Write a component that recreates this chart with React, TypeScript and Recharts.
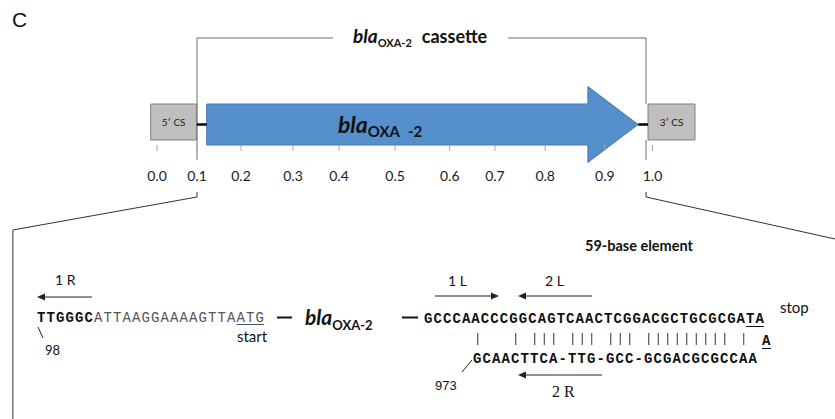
import React from 'react';
import { ComposedChart, XAxis, YAxis, ReferenceArea, ReferenceLine, Customized, Scatter } from 'recharts';

// ---- axis (cassette position) ----
const axisTickLabels = ['0.0', '0.1', '0.2', '0.3', '0.4', '0.5', '0.6', '0.7', '0.8', '0.9', '1.0'];
const axisTickPositions = [0.002, 0.0825, 0.171, 0.2757, 0.3682, 0.481, 0.591, 0.682, 0.783, 0.903, 0.999];

// ---- cassette features ----
const boxNames = ['5\u2032 CS', '3\u2032 CS'];
const boxStarts = [-0.0107, 0.99];
const boxEnds = [0.0819, 1.0845];
const geneStart = 0.102;
const geneHeadStart = 0.869;
const geneEnd = 0.97;
const geneLabelAt = 0.366;

// ---- sequences ----
const seqLeftBold = 'TTGGGC';
const seqLeftMid = 'ATTAAGGAAAAGTTA';
const seqLeftStart = 'ATG';
const seqTop = 'GCCCAACCCGGCAGTCAACTCGGACGCTGCGCGA';
const seqTopStop = 'TA';
const seqBottom = 'GCAACTTCA-TTG-GCC-GCGACGCGCCAA';
const pairIdx = [0, 4, 6, 7, 8, 10, 11, 12, 14, 15, 16, 18, 19, 20, 21, 22, 23, 24, 25, 26, 28];

const SANS = "Lato, 'Open Sans', sans-serif";
const MONO = "'Liberation Mono', 'DejaVu Sans Mono', monospace";
const SERIF = "'Liberation Serif', 'DejaVu Serif', serif";

const X_DOMAIN: [number, number] = [-0.3139, 1.3662];
const Y_DOMAIN: [number, number] = [-1, 1];
const BODY_HALF = 1;
const HEAD_HALF = 1.85;

const anchorData = [
  { x: boxStarts[0], y: 0 },
  { x: geneStart, y: 0 },
  { x: geneEnd, y: 0 },
  { x: boxEnds[1], y: 0 },
];

const GeneArrow = (props: any) => {
  const { x, y, width, height } = props;
  const cy = y + height / 2;
  const bh = (height / 2) * (BODY_HALF / HEAD_HALF);
  const frac = (v: number) => x + (width * (v - geneStart)) / (geneEnd - geneStart);
  const hx = frac(geneHeadStart);
  const pts = [
    [x, cy - bh], [hx, cy - bh], [hx, y], [x + width, cy], [hx, y + height], [hx, cy + bh], [x, cy + bh],
  ].map((p) => p.join(',')).join(' ');
  return (
    <g>
      <polygon points={pts} fill="#5590cd" stroke="#4677b0" strokeWidth={1} />
      <text x={frac(geneLabelAt)} y={cy + 8.5} fontFamily={SANS} fontWeight="bold" fill="#111">
        <tspan fontSize={23} fontStyle="italic">bla</tspan>
        <tspan fontSize={15} dy={4}>OXA</tspan>
        <tspan fontSize={15} dx={8}>-2</tspan>
      </text>
    </g>
  );
};

const HArrow = ({ x1, x2, y }: { x1: number; x2: number; y: number }) => {
  const dir = x2 > x1 ? 1 : -1;
  const tipBase = x2 - dir * 8;
  return (
    <g>
      <line x1={x1} y1={y} x2={tipBase} y2={y} stroke="#222" strokeWidth={1} />
      <polygon points={`${x2},${y} ${tipBase},${y - 3.5} ${tipBase},${y + 3.5}`} fill="#222" />
    </g>
  );
};

const Annotations = () => {
  const leftX = 37, leftPitch = 9.5;
  const topX = 424, topPitch = 9.472;
  const botX = 473, botPitch = 9.5;
  const fs = 14;
  return (
    <g>
      <text x={12} y={27} fontFamily="'Liberation Sans', Arial, sans-serif" fontSize={21} fill="#111">C</text>
      <text x={353} y={43} fontFamily={SANS} fontWeight="bold" fill="#111">
        <tspan fontSize={19} fontStyle="italic">bla</tspan>
        <tspan fontSize={11} dy={4}>OXA-2</tspan>
        <tspan fontSize={18} dy={-4} dx={10}>cassette</tspan>
      </text>

      <text x={585} y={251} fontFamily={SANS} fontWeight="bold" fontSize={14.5} fill="#111">59-base element</text>

      <text x={55} y={285} fontFamily={SANS} fontSize={14} fill="#111">1 R</text>
      <HArrow x1={92} x2={37} y={297} />
      <text x={448} y={286} fontFamily={SANS} fontSize={14} fill="#111">1 L</text>
      <HArrow x1={435} x2={499} y={296} />
      <text x={545} y={286} fontFamily={SANS} fontSize={14} fill="#111">2 L</text>
      <HArrow x1={592} x2={518} y={296} />
      <HArrow x1={602} x2={518} y={375} />
      <text x={552} y={397} fontFamily={SERIF} fontSize={16} fill="#111">2 R</text>

      <text x={leftX} y={322} fontFamily={MONO} fontSize={fs} letterSpacing={leftPitch - 0.6 * fs}>
        <tspan fontWeight="bold" fill="#111">{seqLeftBold}</tspan>
        <tspan fill="#555">{seqLeftMid}</tspan>
        <tspan fill="#555">{seqLeftStart}</tspan>
      </text>
      <line
        x1={leftX + (seqLeftBold.length + seqLeftMid.length) * leftPitch}
        x2={leftX + (seqLeftBold.length + seqLeftMid.length + seqLeftStart.length) * leftPitch - 1}
        y1={324.5} y2={324.5} stroke="#555" strokeWidth={1}
      />
      <line x1={38} y1={327} x2={43} y2={338} stroke="#222" strokeWidth={1} />
      <text x={45} y={355} fontFamily={SANS} fontSize={13} fill="#111">98</text>
      <text x={237} y={342} fontFamily={SANS} fontSize={15} fill="#111">start</text>
      <line x1={277} x2={292} y1={317.5} y2={317.5} stroke="#111" strokeWidth={2} />

      <text x={305} y={325} fontFamily={SANS} fontWeight="bold" fill="#111">
        <tspan fontSize={21} fontStyle="italic">bla</tspan>
        <tspan fontSize={13} dy={5}>OXA-2</tspan>
      </text>
      <line x1={402} x2={418} y1={317.5} y2={317.5} stroke="#111" strokeWidth={2} />

      <text x={topX} y={323} fontFamily={MONO} fontSize={fs} fontWeight="bold" fill="#111" letterSpacing={topPitch - 0.6 * fs}>
        <tspan>{seqTop}</tspan>
        <tspan>{seqTopStop}</tspan>
      </text>
      <line
        x1={topX + seqTop.length * topPitch}
        x2={topX + (seqTop.length + seqTopStop.length) * topPitch - 1}
        y1={326.5} y2={326.5} stroke="#111" strokeWidth={1}
      />
      <text x={780} y={313} fontFamily={SANS} fontSize={15} fill="#111">stop</text>
      <text x={762} y={345} fontFamily={MONO} fontSize={fs} fontWeight="bold" fill="#111">A</text>
      <line x1={762} x2={771} y1={348.5} y2={348.5} stroke="#111" strokeWidth={1} />

      {pairIdx.map((j) => (
        <line key={j} x1={botX + (j + 0.5) * botPitch} x2={botX + (j + 0.5) * botPitch} y1={333} y2={345} stroke="#333" strokeWidth={1} />
      ))}

      <text x={botX} y={363} fontFamily={MONO} fontSize={fs} fontWeight="bold" fill="#111" letterSpacing={botPitch - 0.6 * fs}>
        {seqBottom}
      </text>
      <line x1={472} y1={360} x2={462} y2={372} stroke="#222" strokeWidth={1} />
      <text x={435} y={390} fontFamily="'Liberation Sans', Arial, sans-serif" fontSize={13} fill="#111">973</text>
    </g>
  );
};

type Seg = [[number, number], [number, number]];
const grayBracket: Seg[] = [
  [[0.0825, 4.22], [0.0825, -1.73]],
  [[0.0825, 4.22], [0.356, 4.22]],
  [[0.708, 4.22], [0.986, 4.22]],
  [[0.986, 4.22], [0.986, 1.0]],
  [[0.986, -0.756], [0.986, -1.73]],
];
const darkBracket: Seg[] = [
  [[0.0825, -3.29], [0.0825, -3.537]],
  [[0.0825, -3.537], [-0.288, -5.146]],
  [[-0.288, -5.146], [-0.288, -14.4]],
  [[0.986, -3.29], [0.986, -3.537]],
  [[0.986, -3.537], [1.3662, -5.585]],
];
const connectors: Seg[] = [
  [[boxEnds[0], 0], [geneStart, 0]],
  [[geneEnd, 0], [boxStarts[1], 0]],
];

export default function App() {
  return (
    <div style={{ position: 'absolute', left: 0, top: 0, width: 835, height: 419, background: '#fff' }}>
      <ComposedChart width={835} height={419} margin={{ top: 104, right: 0, bottom: 244, left: 0 }} data={anchorData}>
        <XAxis
          type="number"
          dataKey="x"
          domain={X_DOMAIN}
          allowDataOverflow
          ticks={axisTickPositions}
          interval={0}
          tickFormatter={(v: number) => axisTickLabels[axisTickPositions.indexOf(v)] ?? ''}
          axisLine={false}
          tickLine={{ stroke: '#a6a6a6' }}
          tickSize={6}
          tickMargin={20}
          height={30}
          tick={{ fontSize: 14, fill: '#1a1a1a', fontFamily: SANS }}
        />
        <YAxis type="number" dataKey="y" domain={Y_DOMAIN} allowDataOverflow hide />
        <Scatter dataKey="y" fill="transparent" stroke="none" isAnimationActive={false} legendType="none" />
        {grayBracket.map((s, i) => (
          <ReferenceLine key={'g' + i} segment={[{ x: s[0][0], y: s[0][1] }, { x: s[1][0], y: s[1][1] }]} stroke="#6e6e6e" strokeWidth={1} ifOverflow="visible" />
        ))}
        {darkBracket.map((s, i) => (
          <ReferenceLine key={'d' + i} segment={[{ x: s[0][0], y: s[0][1] }, { x: s[1][0], y: s[1][1] }]} stroke="#333" strokeWidth={1} ifOverflow="visible" />
        ))}
        {connectors.map((s, i) => (
          <ReferenceLine key={'c' + i} segment={[{ x: s[0][0], y: s[0][1] }, { x: s[1][0], y: s[1][1] }]} stroke="#000" strokeWidth={2.5} ifOverflow="visible" />
        ))}
        {boxNames.map((n, i) => (
          <ReferenceArea
            key={n}
            x1={boxStarts[i]}
            x2={boxEnds[i]}
            y1={-0.756}
            y2={1}
            fill="#bfbfbf"
            fillOpacity={1}
            stroke="#7f7f7f"
            strokeWidth={1}
            ifOverflow="visible"
            label={{ value: n, position: 'center', fontSize: 10, fill: '#222', fontFamily: SANS }}
          />
        ))}
        <ReferenceArea
          x1={geneStart}
          x2={geneEnd}
          y1={-HEAD_HALF}
          y2={HEAD_HALF}
          ifOverflow="visible"
          shape={GeneArrow}
        />
        <Customized component={<Annotations />} />
      </ComposedChart>
    </div>
  );
}
